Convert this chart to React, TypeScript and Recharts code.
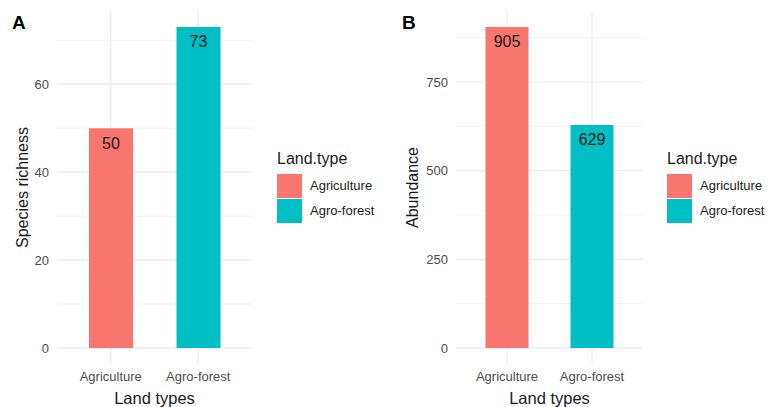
import React from 'react';
import { BarChart, Bar, XAxis, YAxis, CartesianGrid, LabelList, Cell, Label } from 'recharts';

const LAND_TYPES = ['Agriculture', 'Agro-forest'];
const SPECIES_RICHNESS = [50, 73];
const ABUNDANCE = [905, 629];
const LAND_COLORS = ['#F8766D', '#00BFC4'];

const RICHNESS_TICKS = [0, 20, 40, 60];
const RICHNESS_MINOR = [10, 30, 50, 70];
const ABUNDANCE_TICKS = [0, 250, 500, 750];
const ABUNDANCE_MINOR = [125, 375, 625, 875];

const data = LAND_TYPES.map((type, i) => ({
  type,
  richness: SPECIES_RICHNESS[i],
  abundance: ABUNDANCE[i],
}));

const FONT = '"Liberation Sans", Arial, sans-serif';
const CHART_W = 260;
const CHART_H = 407;

type PanelProps = {
  left: number;
  letter: string;
  dataKey: 'richness' | 'abundance';
  yTitle: string;
  ticks: number[];
  minor: number[];
  axisWidth: number;
  plotWidth: number;
  padX: number;
  barSize: number;
  legendLeft: number;
};

function Legend({ left }: { left: number }) {
  return (
    <div style={{ position: 'absolute', left, top: 0 }}>
      <div style={{ position: 'absolute', left: 0, top: 148, fontSize: 16, lineHeight: '22px', color: '#1a1a1a', whiteSpace: 'nowrap' }}>
        Land.type
      </div>
      {LAND_TYPES.map((t, i) => (
        <React.Fragment key={t}>
          <div style={{ position: 'absolute', left: 0, top: 174 + i * 25, width: 25, height: 24, background: LAND_COLORS[i] }} />
          <div style={{ position: 'absolute', left: 33, top: 178 + i * 25, fontSize: 13, lineHeight: '16px', color: '#1a1a1a', whiteSpace: 'nowrap' }}>
            {t}
          </div>
        </React.Fragment>
      ))}
    </div>
  );
}

function Panel(p: PanelProps) {
  const max = Math.max(...data.map((d) => d[p.dataKey]));
  // ggplot-style 5% expansion of the continuous axis
  const domain = [-max * 0.05, max * 1.05];
  const rightMargin = CHART_W - p.axisWidth - p.plotWidth;

  return (
    <>
      <div style={{ position: 'absolute', left: p.left, top: 0 }}>
        <BarChart
          width={CHART_W}
          height={CHART_H}
          data={data}
          margin={{ top: 11, right: rightMargin, bottom: 0, left: 0 }}
        >
          <CartesianGrid horizontal={false} syncWithTicks stroke="#EBEBEB" strokeWidth={1.2} />
          <CartesianGrid vertical={false} syncWithTicks horizontalValues={p.minor} stroke="#F3F3F3" strokeWidth={1} />
          <CartesianGrid vertical={false} syncWithTicks stroke="#EBEBEB" strokeWidth={1.2} />
          <XAxis
            dataKey="type"
            height={43}
            interval={0}
            axisLine={false}
            tickLine={false}
            tickSize={6}
            tickMargin={2}
            padding={{ left: p.padX, right: p.padX }}
            tick={{ fontSize: 13, fill: '#4D4D4D', fontFamily: FONT }}
          >
            <Label value="Land types" position="insideBottom" offset={3} style={{ fontSize: 16.5, fill: '#1a1a1a', fontFamily: FONT }} />
          </XAxis>
          <YAxis
            type="number"
            width={p.axisWidth}
            domain={domain}
            ticks={p.ticks}
            allowDataOverflow
            axisLine={false}
            tickLine={false}
            tickSize={6}
            tickMargin={2}
            tick={{ fontSize: 13, fill: '#4D4D4D', fontFamily: FONT }}
          >
            <Label
              content={({ viewBox }: any) => {
                const cx = viewBox.x + 22;
                const cy = viewBox.y + viewBox.height / 2;
                return (
                  <text
                    x={cx}
                    y={cy}
                    transform={`rotate(-90 ${cx} ${cy})`}
                    textAnchor="middle"
                    dominantBaseline="central"
                    style={{ fontSize: 16, fill: '#1a1a1a', fontFamily: FONT }}
                  >
                    {p.yTitle}
                  </text>
                );
              }}
            />
          </YAxis>
          <Bar dataKey={p.dataKey} barSize={p.barSize} isAnimationActive={false}>
            {data.map((d, i) => (
              <Cell key={d.type} fill={LAND_COLORS[i]} />
            ))}
            <LabelList
              dataKey={p.dataKey}
              position="insideTop"
              offset={9}
              style={{ fontSize: 16, fill: '#1a1a1a', fontFamily: FONT }}
            />
          </Bar>
        </BarChart>
      </div>
      <div
        style={{
          position: 'absolute',
          left: p.left + 12,
          top: 11,
          fontSize: 19,
          fontWeight: 'bold',
          lineHeight: '24px',
          color: '#000',
        }}
      >
        {p.letter}
      </div>
      <Legend left={p.legendLeft} />
    </>
  );
}

export default function App() {
  return (
    <div
      style={{
        position: 'absolute',
        left: 0,
        top: 0,
        width: 769,
        height: 407,
        background: '#fff',
        fontFamily: FONT,
        overflow: 'hidden',
      }}
    >
      <Panel
        left={0}
        letter="A"
        dataKey="richness"
        yTitle="Species richness"
        ticks={RICHNESS_TICKS}
        minor={RICHNESS_MINOR}
        axisWidth={57}
        plotWidth={195}
        padX={10}
        barSize={44}
        legendLeft={277}
      />
      <Panel
        left={390}
        letter="B"
        dataKey="abundance"
        yTitle="Abundance"
        ticks={ABUNDANCE_TICKS}
        minor={ABUNDANCE_MINOR}
        axisWidth={66}
        plotWidth={187}
        padX={8.5}
        barSize={43}
        legendLeft={667}
      />
    </div>
  );
}
